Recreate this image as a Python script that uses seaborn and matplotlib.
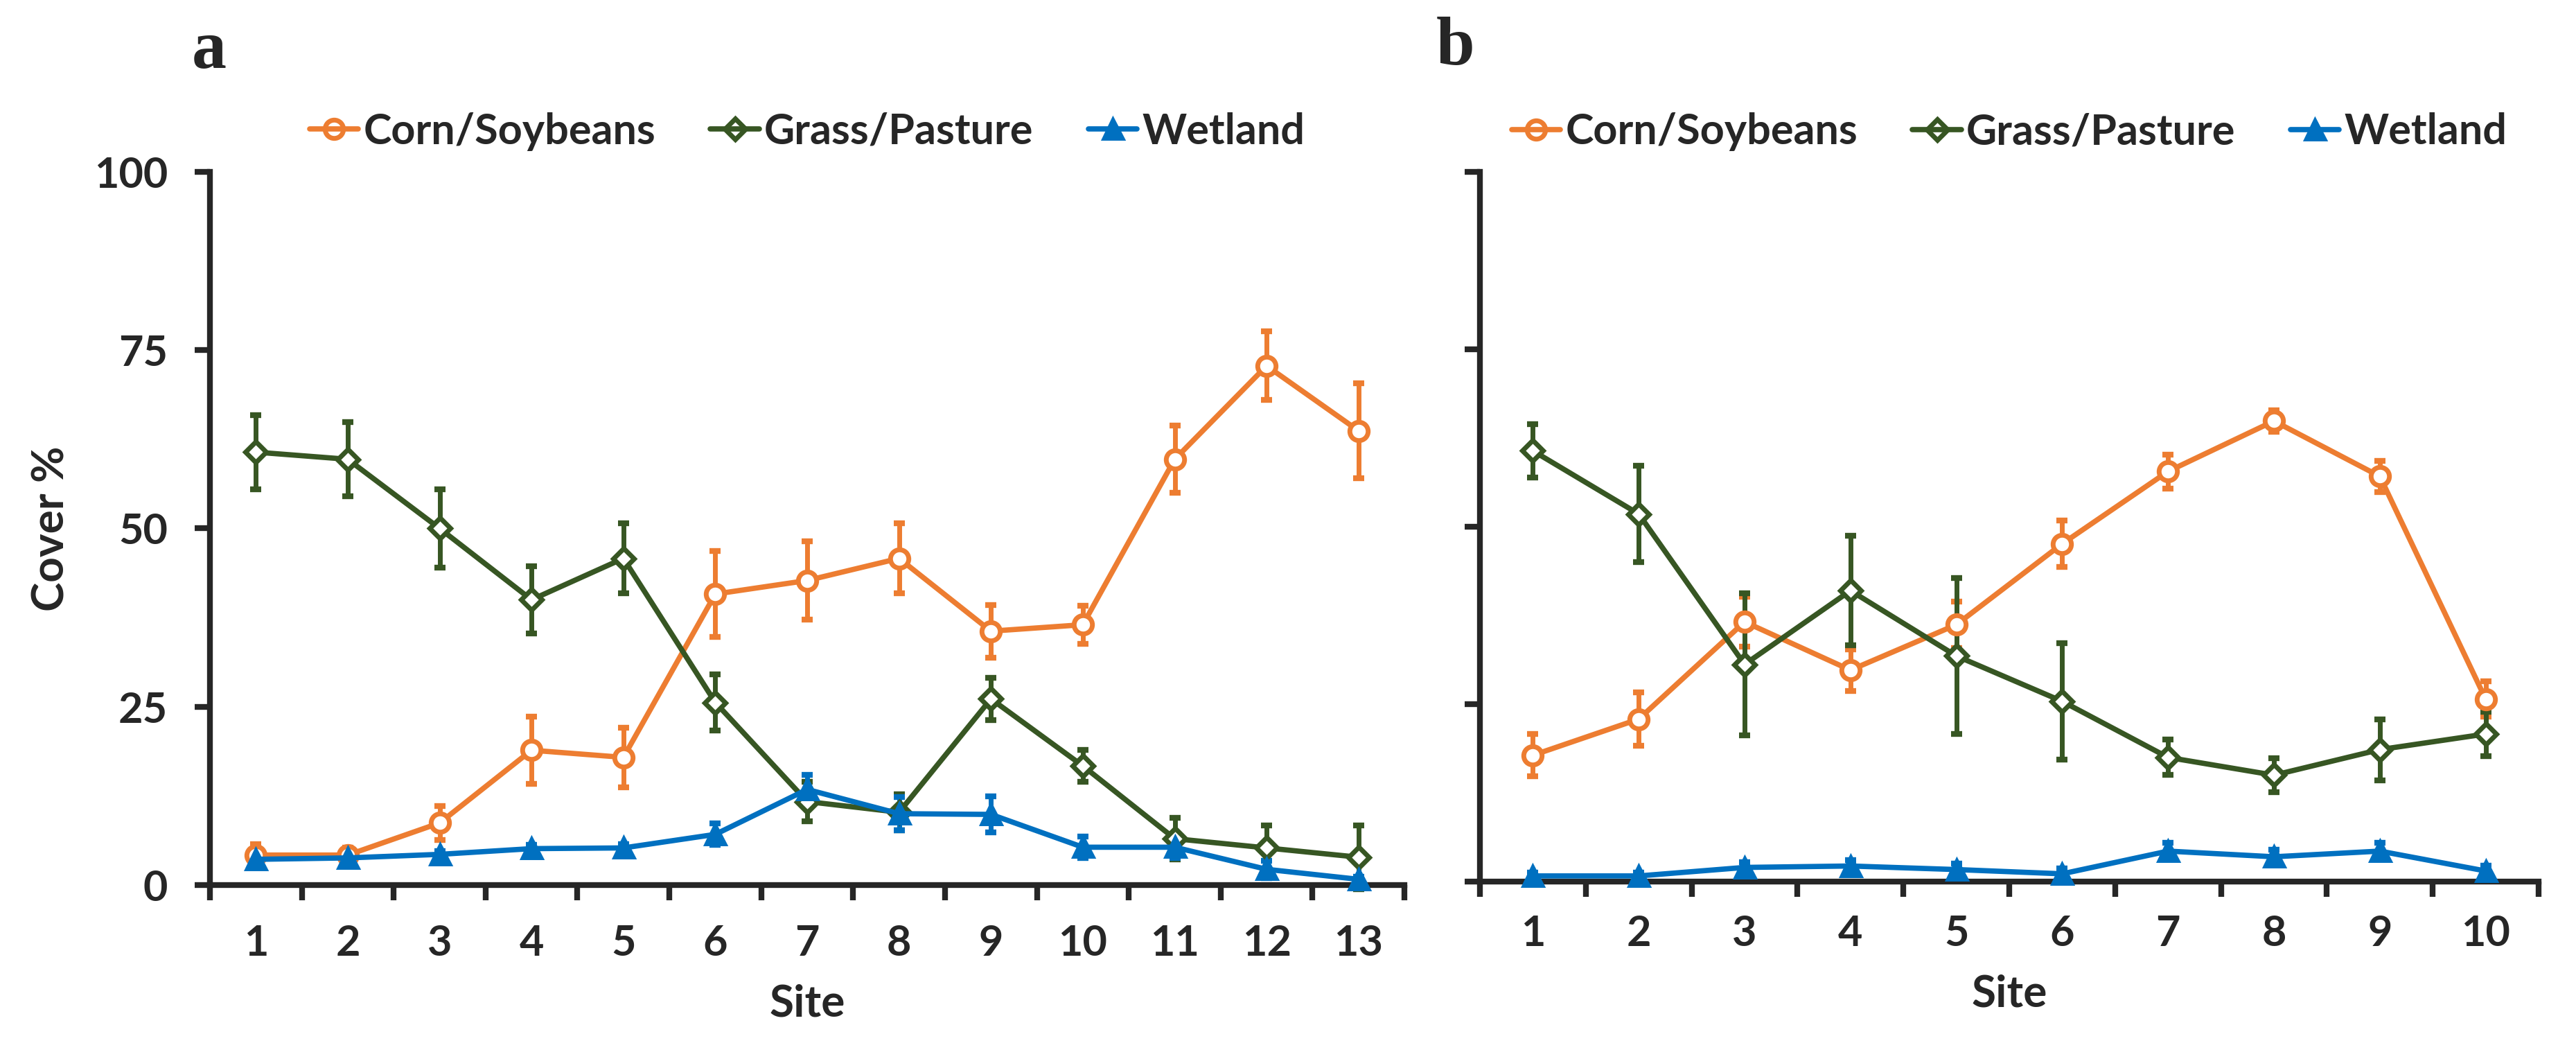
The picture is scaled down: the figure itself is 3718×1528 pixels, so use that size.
import numpy as np
import pandas as pd
import matplotlib.pyplot as plt
import seaborn as sns
from matplotlib.lines import Line2D

# Panel a (13 sites)
sites_a = list(range(1, 14))
corn_a = [4.2, 4.2, 8.7, 18.9, 17.9, 40.8, 42.7, 45.8, 35.6, 36.5, 59.7, 72.8, 63.7]
corn_a_err = [1.5, 1.0, 2.4, 4.7, 4.2, 6.0, 5.5, 4.9, 3.7, 2.7, 4.7, 4.8, 6.7]
grass_a = [60.7, 59.7, 50.0, 40.0, 45.8, 25.6, 11.7, 10.2, 26.1, 16.7, 6.5, 5.2, 3.9]
grass_a_err = [5.2, 5.2, 5.5, 4.7, 4.9, 3.9, 2.8, 2.5, 3.0, 2.2, 2.9, 3.2, 4.5]
wet_a = [3.6, 3.8, 4.3, 5.1, 5.2, 7.1, 13.4, 10.0, 9.9, 5.3, 5.3, 2.2, 0.8]
wet_a_err = [1.0, 0.8, 0.5, 0.5, 0.5, 1.5, 2.0, 2.3, 2.5, 1.5, 1.5, 1.2, 0.4]

# Panel b (10 sites)
sites_b = list(range(1, 11))
corn_b = [17.8, 22.9, 36.6, 29.8, 36.2, 47.6, 57.8, 64.9, 57.1, 25.7]
corn_b_err = [3.0, 3.8, 3.5, 2.9, 3.3, 3.3, 2.4, 1.5, 2.2, 2.5]
grass_b = [60.7, 51.8, 30.6, 41.0, 31.8, 25.4, 17.5, 15.0, 18.6, 20.8]
grass_b_err = [3.8, 6.8, 10.0, 7.7, 11.0, 8.2, 2.5, 2.4, 4.3, 3.1]
wet_b = [0.8, 0.8, 2.0, 2.2, 1.7, 1.1, 4.3, 3.5, 4.3, 1.5]
wet_b_err = [0.5, 0.5, 0.7, 0.8, 0.8, 0.8, 1.2, 1.0, 1.2, 0.8]

series_names = ["Corn/Soybeans", "Grass/Pasture", "Wetland"]
colors = {"Corn/Soybeans": "#ED7D31", "Grass/Pasture": "#375623", "Wetland": "#0070C0"}
markers = {"Corn/Soybeans": "o", "Grass/Pasture": "D", "Wetland": "^"}
msizes = {"Corn/Soybeans": 19, "Grass/Pasture": 15, "Wetland": 18}
mfaces = {"Corn/Soybeans": "white", "Grass/Pasture": "white", "Wetland": "#0070C0"}
yticks = [0, 25, 50, 75, 100]

sns.set_style("ticks")
plt.rcParams['font.family'] = ['Lato', 'DejaVu Sans']
plt.rcParams['font.weight'] = 'bold'

FS = 44
LW = 5.5


def draw_panel(ax, sites, data, show_ylabels, xpad):
    for name in series_names:
        vals, errs = data[name]
        c = colors[name]
        ax.errorbar(sites, vals, yerr=errs, fmt='none', ecolor=c, elinewidth=5,
                    capsize=6, capthick=6, zorder=2, clip_on=False)
        sns.lineplot(x=sites, y=vals, ax=ax, color=c, linewidth=LW,
                     marker=markers[name], markersize=msizes[name],
                     markerfacecolor=mfaces[name], markeredgecolor=c,
                     markeredgewidth=5, errorbar=None, zorder=3, clip_on=False)

    n = len(sites)
    ax.set_xlim(0.5, n + 0.5)
    ax.set_ylim(0, 100)
    ax.set_xticks(sites)
    ax.set_xticklabels([str(s) for s in sites])
    ax.set_xticks(np.arange(0.5, n + 1.0, 1.0), minor=True)
    ax.tick_params(axis='x', which='major', length=0, pad=xpad, labelsize=FS)
    ax.tick_params(axis='x', which='minor', length=16, width=6, direction='out')
    ax.set_yticks(yticks)
    ax.tick_params(axis='y', length=16, width=6, direction='out', pad=28, labelsize=FS)
    if not show_ylabels:
        ax.set_yticklabels([])
    sns.despine(ax=ax)
    for sp in ['left', 'bottom']:
        ax.spines[sp].set_linewidth(6)
    ax.set_xlabel("Site", fontsize=46, fontweight='bold', labelpad=22)

    handles = [Line2D([0], [0], color=colors[nm], lw=LW, marker=markers[nm],
                      markersize=msizes[nm], markerfacecolor='none' if nm != 'Wetland' else colors[nm],
                      markeredgecolor=colors[nm], markeredgewidth=5)
               for nm in series_names]
    ax.legend(handles, series_names, loc='center', bbox_to_anchor=(0.5, 1.0565), ncol=3,
              frameon=False, prop={'weight': 'bold', 'size': FS}, handlelength=1.15,
              handletextpad=0.12, columnspacing=1.3, borderpad=0, borderaxespad=0)


fig = plt.figure(figsize=(37.18, 15.28), dpi=100)
ax_a = fig.add_axes([0.0815, 0.1643, 0.4637, 0.6734])
ax_b = fig.add_axes([0.5745, 0.1675, 0.4110, 0.6702])

draw_panel(ax_a, sites_a, {"Corn/Soybeans": (corn_a, corn_a_err),
                           "Grass/Pasture": (grass_a, grass_a_err),
                           "Wetland": (wet_a, wet_a_err)}, True, 40)
draw_panel(ax_b, sites_b, {"Corn/Soybeans": (corn_b, corn_b_err),
                           "Grass/Pasture": (grass_b, grass_b_err),
                           "Wetland": (wet_b, wet_b_err)}, False, 34)

ax_a.set_ylabel("Cover %", fontsize=46, fontweight='bold', labelpad=24)

fig.text(0.0745, 0.9359, "a", fontsize=72, fontweight='bold',
         family=['Liberation Serif', 'DejaVu Serif'], va='baseline', ha='left')
fig.text(0.5576, 0.9391, "b", fontsize=72, fontweight='bold',
         family=['Liberation Serif', 'DejaVu Serif'], va='baseline', ha='left')

fig.savefig("out.png", dpi=100)
